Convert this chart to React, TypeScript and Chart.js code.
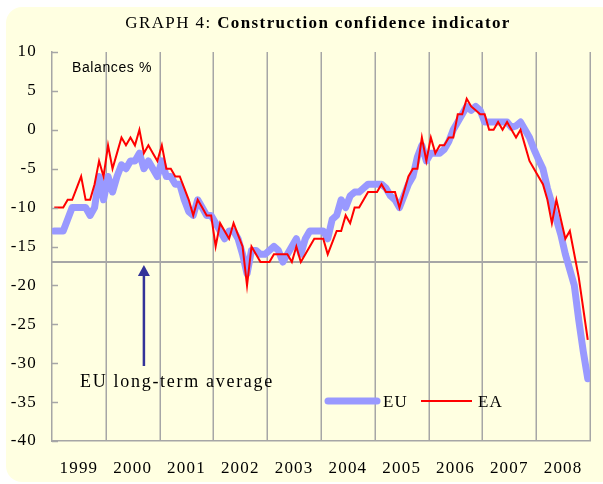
import React, { useEffect, useRef } from "react";
import { Chart, registerables } from "chart.js";
Chart.register(...registerables);

const YEARS = ["1999", "2000", "2001", "2002", "2003", "2004", "2005", "2006", "2007", "2008"];

// Monthly values Jan 1999 .. Dec 2008 (balances %)
const EU = [
  -13, -13, -13, -11.5, -10, -10, -10, -10, -11, -10, -6, -9,
  -6, -8, -6, -4.5, -5, -4, -4, -3, -5, -4, -5, -6,
  -4, -6, -6, -7, -7, -9, -10.5, -11, -9, -10, -11, -11,
  -12, -13, -14, -13, -13, -14, -16, -18.5, -15.5, -15.5, -16, -16,
  -15.5, -15, -15.5, -17, -16, -15, -14, -16, -14, -13, -13, -13,
  -13, -14, -11.5, -11, -9, -10, -8.5, -8, -8, -7.5, -7, -7,
  -7, -7, -7.5, -8.5, -9, -10, -8.5, -7, -6, -3.5, -2, -4,
  -3, -3, -3, -2.5, -1.5, 0, 1, 2, 3, 2.5, 3, 2.5,
  1, 1, 1, 1, 1, 1, 0.3, 0.5, 1, 0, -1, -2.5,
  -3.8, -5, -7.5, -9.5, -11.5, -13.5, -16, -18, -20, -24.5, -28.5, -32,
];

const EA = [
  -10, -10, -10, -9, -9, -7.5, -6, -9, -9, -7, -4, -6,
  -2, -5, -3, -1, -2, -1, -2, 0, -3, -2, -3, -4,
  -2, -5, -5, -6, -6, -7.5, -9, -11, -9, -10, -11, -11,
  -15, -12, -13, -14, -12, -13.5, -15, -20, -15, -16, -17, -17,
  -17, -16, -16, -16, -16, -17, -15, -17, -16, -15, -14, -14,
  -14, -16, -14.5, -13, -13, -11, -12, -10, -10, -9, -8, -8,
  -8, -7, -8, -8, -8, -10, -8, -6, -5, -5, -1, -4,
  -1, -3, -2, -2, -1, -1, 2, 2, 4, 3, 2.5, 2,
  2, 0, 0, 1, 0, 1, 0, -1, 0, -2, -4, -5,
  -6, -7, -9, -12, -9, -11.5, -14, -13, -16, -19, -23, -27,
];

const LONG_TERM_AVG = -17;
const Y_MIN = -40;
const Y_MAX = 10;
const Y_STEP = 5;
const MONTHS_PER_YEAR = 12;
const ARROW_MONTH = 20;

const SERIF = '"Liberation Serif", "Times New Roman", serif';
const SANS = '"Liberation Sans", Arial, sans-serif';
const GRID = "#a6a6a6";
const EU_COLOR = "#9999ff";
const EA_COLOR = "#ff0000";
const ARROW = "#333399";

const decorPlugin = {
  id: "decor",
  beforeDraw(chart: any) {
    const ctx = chart.ctx;
    ctx.save();
    ctx.fillStyle = "#ffffff";
    ctx.fillRect(0, 0, chart.width, chart.height);
    ctx.fillStyle = "#ffffe1";
    ctx.beginPath();
    (ctx as any).roundRect(6, 7, 610, 475, 16);
    ctx.fill();
    ctx.restore();
    ctx.letterSpacing = "1.2px";
  },
  beforeDatasetsDraw(chart: any) {
    const ctx = chart.ctx;
    const area = chart.chartArea;
    const xs = chart.scales.x;
    ctx.save();
    ctx.strokeStyle = GRID;
    ctx.lineWidth = 1.5;
    for (let k = 1; k <= YEARS.length; k++) {
      const px = Math.round(xs.getPixelForValue(k * MONTHS_PER_YEAR - 0.5)) + 0.25;
      ctx.beginPath();
      ctx.moveTo(px, area.top);
      ctx.lineTo(px, area.bottom);
      ctx.stroke();
    }
    ctx.restore();
  },
  afterDraw(chart: any) {
    const ctx = chart.ctx;
    const area = chart.chartArea;
    const ys = chart.scales.y;
    const xs = chart.scales.x;
    ctx.save();
    // inner y ticks
    ctx.strokeStyle = GRID;
    ctx.lineWidth = 1.5;
    for (let v = Y_MIN; v <= Y_MAX; v += Y_STEP) {
      const py = Math.round(ys.getPixelForValue(v)) + 0.5;
      ctx.beginPath();
      ctx.moveTo(area.left, py);
      ctx.lineTo(area.left + 6, py);
      ctx.stroke();
    }
    // title
    ctx.fillStyle = "#000";
    ctx.textBaseline = "alphabetic";
    ctx.letterSpacing = "1.4px";
    const p1 = "GRAPH 4: ";
    const p2 = "Construction confidence indicator";
    ctx.font = `17px ${SERIF}`;
    const w1 = ctx.measureText(p1).width;
    ctx.font = `bold 17px ${SERIF}`;
    const w2 = ctx.measureText(p2).width;
    const tx = 318 - (w1 + w2) / 2;
    ctx.font = `17px ${SERIF}`;
    ctx.textAlign = "left";
    ctx.fillText(p1, tx, 28);
    ctx.font = `bold 17px ${SERIF}`;
    ctx.fillText(p2, tx + w1, 28);
    // Balances %
    ctx.letterSpacing = "0.6px";
    ctx.font = `14px ${SANS}`;
    ctx.fillText("Balances %", 72, 72);
    // annotation
    ctx.letterSpacing = "1.7px";
    ctx.font = `18px ${SERIF}`;
    ctx.fillText("EU long-term average", 80, 387);
    // arrow
    const ax = xs.getPixelForValue(ARROW_MONTH);
    const tipY = ys.getPixelForValue(LONG_TERM_AVG) + 3;
    ctx.strokeStyle = ARROW;
    ctx.fillStyle = ARROW;
    ctx.lineWidth = 2.5;
    ctx.beginPath();
    ctx.moveTo(ax, 366);
    ctx.lineTo(ax, tipY + 10);
    ctx.stroke();
    ctx.beginPath();
    ctx.moveTo(ax, tipY);
    ctx.lineTo(ax - 6, tipY + 11);
    ctx.lineTo(ax + 6, tipY + 11);
    ctx.closePath();
    ctx.fill();
    // legend
    const ly = 401;
    ctx.lineCap = "round";
    ctx.strokeStyle = EU_COLOR;
    ctx.lineWidth = 7;
    ctx.beginPath();
    ctx.moveTo(328, ly);
    ctx.lineTo(377, ly);
    ctx.stroke();
    ctx.lineCap = "butt";
    ctx.strokeStyle = EA_COLOR;
    ctx.lineWidth = 2;
    ctx.beginPath();
    ctx.moveTo(421, ly);
    ctx.lineTo(472, ly);
    ctx.stroke();
    ctx.fillStyle = "#000";
    ctx.letterSpacing = "1px";
    ctx.font = `17px ${SERIF}`;
    ctx.textBaseline = "middle";
    ctx.fillText("EU", 383, ly + 2);
    ctx.fillText("EA", 478, ly + 2);
    ctx.restore();
  },
};

export default function App() {
  const ref = useRef<HTMLCanvasElement | null>(null);
  useEffect(() => {
    if (!ref.current) return;
    const n = EU.length;
    const chart = new Chart(ref.current, {
      type: "line",
      data: {
        datasets: [
          {
            label: "EA",
            data: EA.map((v, i) => ({ x: i, y: v })),
            borderColor: EA_COLOR,
            borderWidth: 2,
            pointRadius: 0,
            tension: 0,
            order: 1,
          },
          {
            label: "EU",
            data: EU.map((v, i) => ({ x: i, y: v })),
            borderColor: EU_COLOR,
            borderWidth: 7,
            pointRadius: 0,
            tension: 0,
            borderJoinStyle: "round",
            borderCapStyle: "round",
            order: 2,
          },
          {
            label: "EU long-term average",
            data: [
              { x: -0.5, y: LONG_TERM_AVG },
              { x: n - 1, y: LONG_TERM_AVG },
            ],
            borderColor: GRID,
            borderWidth: 2,
            pointRadius: 0,
            order: 3,
          },
        ],
      },
      options: {
        responsive: false,
        animation: false,
        devicePixelRatio: 1,
        layout: { padding: { top: 52, right: 13, left: 0, bottom: 0 } },
        plugins: { legend: { display: false }, title: { display: false }, tooltip: { enabled: false } },
        scales: {
          x: {
            type: "linear",
            min: -0.5,
            max: n - 0.5,
            afterFit: (s: any) => {
              s.height = 43;
            },
            afterBuildTicks: (s: any) => {
              s.ticks = YEARS.map((_, k) => ({ value: k * MONTHS_PER_YEAR + 5.5 }));
            },
            grid: { display: false, drawTicks: false },
            border: { color: GRID, width: 1.5 },
            ticks: {
              autoSkip: false,
              maxRotation: 0,
              padding: 17,
              color: "#000",
              font: { family: SERIF, size: 17 },
              callback: (v: any) => YEARS[Math.round((Number(v) - 5.5) / MONTHS_PER_YEAR)] ?? "",
            },
          },
          y: {
            min: Y_MIN,
            max: Y_MAX,
            afterFit: (s: any) => {
              s.width = 52;
            },
            ticks: {
              stepSize: Y_STEP,
              padding: 15,
              color: "#000",
              font: { family: SERIF, size: 17 },
            },
            grid: { drawOnChartArea: false, drawTicks: false },
            border: { color: GRID, width: 1.5 },
          },
        },
      },
      plugins: [decorPlugin],
    } as any);
    return () => chart.destroy();
  }, []);
  return (
    <div style={{ position: "absolute", left: 0, top: 0, width: 603, height: 484 }}>
      <canvas ref={ref} width={603} height={484} style={{ display: "block" }} />
    </div>
  );
}
